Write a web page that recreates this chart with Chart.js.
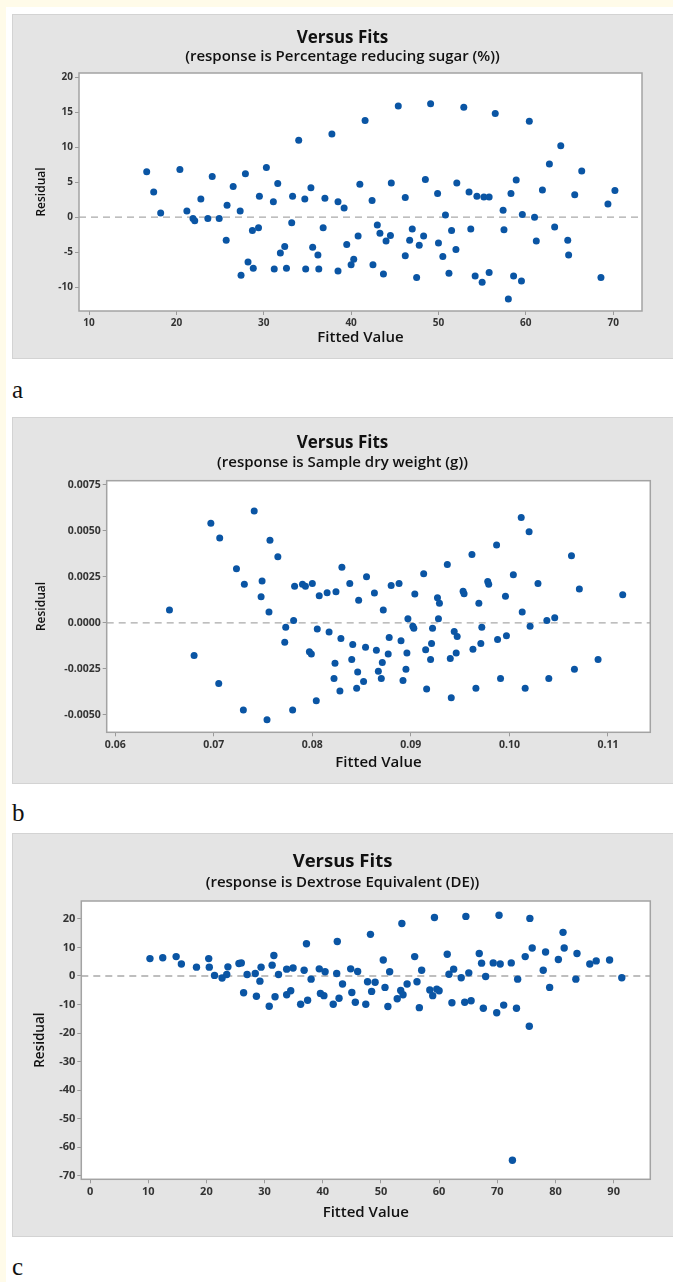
<!DOCTYPE html>
<html>
<head>
<meta charset="utf-8">
<script src="https://cdn.jsdelivr.net/npm/chart.js@4.4.1/dist/chart.umd.min.js"></script>
<style>
body { margin:0; background:#fff; width:673px; height:1282px; overflow:hidden; position:relative; }
.strip-left { position:absolute; left:0; top:0; width:6px; height:1282px; background:#fffbe9; }
.strip-top { position:absolute; left:0; top:0; width:673px; height:7px; background:#fffbe9; }
.panel { position:absolute; left:12px; width:670px; background:#e4e4e4; border:1px solid #d3d3d3; box-sizing:border-box; }
canvas { position:absolute; left:12px; }
.tag { position:absolute; left:12px; font:25px 'Liberation Serif', serif; line-height:25px; color:#111; }
</style>
</head>
<body>
<div class="strip-left"></div>
<div class="strip-top"></div>

<div class="panel" style="top:14px;height:345px"></div>
<canvas id="chartA" width="661" height="345" style="top:14px"></canvas>
<div class="tag" style="top:377px">a</div>

<div class="panel" style="top:417px;height:367px"></div>
<canvas id="chartB" width="661" height="367" style="top:417px"></canvas>
<div class="tag" style="top:800px">b</div>

<div class="panel" style="top:833px;height:404px"></div>
<canvas id="chartC" width="661" height="404" style="top:833px"></canvas>
<div class="tag" style="top:1254px">c</div>

<script>
// a - Percentage reducing sugar
const fittedA = [16.6, 17.4, 18.2, 20.4, 21.2, 21.9, 22.1, 22.8, 23.6, 24.1, 24.9, 25.7, 25.8, 26.5, 27.3, 27.4, 27.9, 28.2, 28.7, 28.8,
  29.4, 29.5, 30.3, 31.1, 31.2, 31.6, 31.9, 32.4, 32.6, 33.2, 33.3, 34.0, 34.7, 34.8, 35.4, 35.6, 36.2, 36.3, 36.8, 37.0,
  37.8, 38.5, 38.5, 39.2, 39.5, 40.0, 40.3, 40.8, 41.0, 41.6, 42.4, 42.5, 43.0, 43.3, 43.7, 44.0, 44.5, 44.6, 45.4, 46.2,
  46.2, 46.7, 47.0, 47.5, 47.8, 48.3, 48.5, 49.1, 49.9, 50.0, 50.5, 50.8, 51.2, 51.5, 52.0, 52.1, 52.9, 53.5, 53.7, 54.2,
  54.4, 55.0, 55.2, 55.8, 55.8, 56.5, 57.4, 57.5, 58.0, 58.3, 58.6, 58.9, 59.5, 59.6, 60.4, 61.0, 61.2, 61.9, 62.7, 63.3,
  64.0, 64.8, 64.9, 65.6, 66.4, 68.6, 69.4, 70.2];
const residA = [6.5, 3.6, 0.6, 6.8, 0.9, -0.2, -0.5, 2.6, -0.2, 5.8, -0.2, -3.3, 1.7, 4.4, 0.9, -8.3, 6.2, -6.4, -1.9, -7.3,
  -1.5, 3.0, 7.1, 2.2, -7.4, 4.8, -5.1, -4.2, -7.3, -0.8, 3.0, 11.0, 2.6, -7.4, 4.2, -4.3, -5.4, -7.4, -1.5, 2.7,
  11.9, -7.7, 2.2, 1.3, -3.9, -6.8, -6.0, -2.7, 4.7, 13.8, 2.4, -6.8, -1.1, -2.3, -8.1, -3.4, -2.6, 4.9, 15.9, -5.5,
  2.8, -3.3, -1.7, -8.6, -4.0, -2.7, 5.4, 16.2, 3.4, -3.7, -5.6, 0.3, -8.0, -1.9, -4.6, 4.9, 15.7, 3.6, -1.7, -8.4,
  3.0, -9.3, 2.9, 2.9, -7.9, 14.8, 1.0, -1.8, -11.7, 3.4, -8.4, 5.3, -9.1, 0.4, 13.7, 0.0, -3.4, 3.9, 7.6, -1.4,
  10.2, -3.3, -5.4, 3.2, 6.6, -8.6, 1.9, 3.8];
const ticksAX = [10, 20, 30, 40, 50, 60, 70];
const labelsAX = ['10', '20', '30', '40', '50', '60', '70'];
const ticksAY = [-10, -5, 0, 5, 10, 15, 20];
const labelsAY = ['-10', '-5', '0', '5', '10', '15', '20'];

// b - Sample dry weight
const fittedB = [0.0655, 0.0680, 0.0697, 0.0705, 0.0706, 0.0723, 0.0730, 0.0731, 0.0741, 0.0748, 0.0749, 0.0754, 0.0756, 0.0757, 0.0765,
  0.0772, 0.0773, 0.0780, 0.0781, 0.0782, 0.0790, 0.0793, 0.0797, 0.0799, 0.0800, 0.0804, 0.0805, 0.0807, 0.0815, 0.0817,
  0.0822, 0.0823, 0.0824, 0.0828, 0.0829, 0.0830, 0.0838, 0.0840, 0.0841, 0.0845, 0.0846, 0.0847, 0.0852, 0.0854, 0.0855,
  0.0863, 0.0865, 0.0867, 0.0870, 0.0871, 0.0872, 0.0877, 0.0878, 0.0880, 0.0888, 0.0890, 0.0892, 0.0895, 0.0896, 0.0897,
  0.0902, 0.0903, 0.0904, 0.0913, 0.0915, 0.0916, 0.0920, 0.0921, 0.0922, 0.0927, 0.0928, 0.0929, 0.0937, 0.0940, 0.0941,
  0.0944, 0.0946, 0.0947, 0.0953, 0.0954, 0.0962, 0.0963, 0.0966, 0.0969, 0.0971, 0.0972, 0.0978, 0.0979, 0.0987, 0.0988,
  0.0991, 0.0996, 0.0997, 0.1004, 0.1012, 0.1013, 0.1016, 0.1020, 0.1021, 0.1029, 0.1038, 0.1040, 0.1046, 0.1063, 0.1066,
  0.1071, 0.1090, 0.1115];
const residB = [0.0007, -0.00177, 0.00542, -0.00329, 0.00461, 0.00294, -0.00473, 0.0021, 0.00609, 0.00143, 0.00228, -0.00526, 0.0006, 0.0045, 0.0036,
  -0.00105, -0.00023, -0.00473, 0.00013, 0.00199, 0.0021, 0.002, -0.00157, -0.00168, 0.00215, -0.00423, -0.00033, 0.00148, 0.00164, -0.00049,
  -0.00302, -0.00219, 0.0017, -0.0037, -0.00085, 0.00303, 0.00215, -0.00199, -0.00117, -0.00354, -0.00266, 0.00123, -0.00318, -0.00132, 0.00251,
  0.00163, -0.00148, -0.00262, -0.00302, -0.00215, 0.0007, -0.00168, -0.00079, 0.00204, 0.00215, -0.00096, -0.00313, -0.00251, -0.00163, 0.00023,
  -0.00018, -0.00029, 0.00157, 0.00267, -0.00146, -0.00359, -0.00199, -0.00112, -0.00029, 0.00137, 0.00023, 0.00107, 0.00318, -0.00193, -0.00406,
  -0.00047, -0.00163, -0.00074, 0.00173, 0.00159, 0.00372, -0.00143, -0.00354, 0.00107, -0.00112, -0.00023, 0.00226, 0.0021, 0.00423, -0.0009,
  -0.00302, 0.00145, -0.0007, 0.00262, 0.00573, 0.0006, -0.00354, 0.00495, -0.00018, 0.00215, 0.00013, -0.00302, 0.00029, 0.00365, -0.00251,
  0.00184, -0.00199, 0.00154];
const ticksBX = [0.06, 0.07, 0.08, 0.09, 0.10, 0.11];
const labelsBX = ['0.06', '0.07', '0.08', '0.09', '0.10', '0.11'];
const ticksBY = [-0.005, -0.0025, 0, 0.0025, 0.005, 0.0075];
const labelsBY = ['-0.0050', '-0.0025', '0.0000', '0.0025', '0.0050', '0.0075'];

// c - Dextrose Equivalent
const fittedC = [10.3, 12.5, 14.8, 15.7, 18.3, 20.4, 20.5, 21.4, 22.7, 23.5, 23.7, 25.6, 26.0, 26.4, 27.0, 28.4, 28.6, 29.2, 29.4, 30.8,
  31.3, 31.6, 31.8, 32.4, 33.8, 33.8, 34.5, 34.9, 36.2, 36.8, 37.2, 37.4, 38.0, 39.4, 39.6, 40.2, 40.4, 41.8, 42.4, 42.5,
  42.8, 43.4, 44.8, 45.0, 45.6, 46.0, 47.4, 47.7, 48.2, 48.4, 49.0, 50.4, 50.7, 51.2, 51.5, 52.8, 53.4, 53.6, 53.8, 54.5,
  55.8, 56.2, 56.6, 57.0, 58.4, 58.9, 59.2, 59.6, 60.0, 61.4, 61.7, 62.2, 62.5, 63.8, 64.4, 64.6, 65.1, 65.5, 66.9, 67.3,
  67.6, 68.0, 69.3, 69.9, 70.3, 70.5, 71.1, 72.4, 72.6, 73.3, 73.5, 74.8, 75.5, 75.6, 76.0, 77.9, 78.3, 79.0, 80.5, 81.3,
  81.5, 83.5, 83.7, 85.9, 87.0, 89.3, 91.4];
const residC = [6.1, 6.4, 6.8, 4.2, 3.1, 6.1, 3.1, 0.2, -0.7, 0.5, 3.2, 4.4, 4.6, -5.9, 0.5, 0.9, -7.1, -1.8, 3.1, -10.6,
  3.8, 7.2, -7.3, 0.5, -6.6, 2.4, -5.2, 2.8, -9.9, 2.0, 11.3, -8.5, -1.1, 2.5, -6.1, -6.9, 1.5, -9.9, 0.9, 12.1,
  -7.8, -2.8, 2.5, -5.8, -9.2, 1.6, -9.9, -2.0, 14.6, -5.4, -2.2, 5.6, -4.0, -10.7, 1.5, -8.0, -5.1, 18.4, -6.6, -2.8,
  6.8, -2.0, -11.1, 2.0, -4.9, -6.9, 20.5, -4.6, -5.2, 7.6, 0.6, -9.4, 2.4, -0.6, -9.2, 20.9, 1.1, -8.7, 7.9, 4.5,
  -11.3, -0.2, 4.6, -12.9, 21.3, 4.2, -10.2, 4.6, -64.6, -11.3, -1.1, 6.8, -17.6, 20.2, 9.8, 2.0, 8.4, -4.0, 5.8, 15.3,
  9.8, -1.1, 7.9, 4.2, 5.3, 5.6, -0.6];
const ticksCX = [0, 10, 20, 30, 40, 50, 60, 70, 80, 90];
const labelsCX = ['0', '10', '20', '30', '40', '50', '60', '70', '80', '90'];
const ticksCY = [-70, -60, -50, -40, -30, -20, -10, 0, 10, 20];
const labelsCY = ['-70', '-60', '-50', '-40', '-30', '-20', '-10', '0', '10', '20'];

// white plot area, grey frame and the dashed zero line
const plotFrame = {
    id: 'plotFrame',
    beforeDraw(chart) {
        const a = chart.chartArea;
        const ctx = chart.ctx;
        ctx.save();
        ctx.fillStyle = '#ffffff';
        ctx.fillRect(a.left, a.top, a.right - a.left, a.bottom - a.top);
        ctx.restore();
    },
    beforeDatasetsDraw(chart) {
        const a = chart.chartArea;
        const ctx = chart.ctx;
        const y0 = chart.scales.y.getPixelForValue(0);
        ctx.save();
        ctx.strokeStyle = '#a9a9a9';
        ctx.lineWidth = 1.3;
        ctx.setLineDash([7, 5]);
        ctx.beginPath();
        ctx.moveTo(a.left, y0);
        ctx.lineTo(a.right, y0);
        ctx.stroke();
        ctx.setLineDash([]);
        ctx.strokeStyle = '#a3a3a3';
        ctx.lineWidth = 1.5;
        ctx.strokeRect(a.left, a.top, a.right - a.left, a.bottom - a.top);
        ctx.restore();
    }
};

function makeChart(id, fitted, resid, xTicks, xLabels, yTicks, yLabels, lay) {
    const canvas = document.getElementById(id);
    const W = canvas.width, H = canvas.height;
    const points = fitted.map((x, i) => ({x: x, y: resid[i]}));
    // paddings so the title baselines and the plot top land where they should
    const tPad = lay.titleBase - 0.885 * lay.titleSize;
    const tBottom = tPad + 1.2 * lay.titleSize;
    const sPad = Math.max(0, lay.subBase - 0.885 * lay.subSize - tBottom);
    const sBottom = tBottom + sPad + 1.2 * lay.subSize;
    const tickFont = {family: 'Open Sans', size: lay.tickSize, weight: 'bold'};
    const grid = {drawOnChartArea: false, drawTicks: true, tickLength: 4, color: '#9a9a9a'};

    return new Chart(canvas, {
        type: 'scatter',
        data: {
            datasets: [{
                data: points,
                backgroundColor: '#0a55a4',
                borderColor: '#0a55a4',
                borderWidth: 0,
                pointRadius: lay.dot,
                pointHoverRadius: lay.dot,
            }],
        },
        options: {
            responsive: false,
            animation: false,
            devicePixelRatio: 1,
            layout: {padding: 0},
            plugins: {
                legend: {display: false},
                tooltip: {enabled: false},
                title: {
                    display: true,
                    text: 'Versus Fits',
                    color: '#111',
                    font: {family: 'Open Sans', size: lay.titleSize, weight: 'bold', lineHeight: 1.2},
                    padding: {top: tPad, bottom: 0},
                },
                subtitle: {
                    display: true,
                    text: lay.subtitle,
                    color: '#111',
                    font: {family: 'Open Sans', size: lay.subSize, weight: '600', lineHeight: 1.2},
                    padding: {top: sPad, bottom: lay.plot.top - sBottom},
                },
            },
            scales: {
                x: {
                    type: 'linear',
                    position: 'bottom',
                    min: lay.xMin,
                    max: lay.xMax,
                    afterBuildTicks: (s) => { s.ticks = xTicks.map((v) => ({value: v})); },
                    afterFit: (s) => { s.height = H - lay.plot.bottom; },
                    ticks: {autoSkip: false, maxRotation: 0, padding: 2, color: '#333', font: tickFont,
                        callback: (v, i) => xLabels[i]},
                    grid: grid,
                    border: {display: false},
                    title: {display: true, text: 'Fitted Value', color: '#111',
                        font: {family: 'Open Sans', size: lay.xTitleSize, weight: '600', lineHeight: 1.2},
                        padding: {top: 0, bottom: lay.xTitlePad}},
                },
                y: {
                    type: 'linear',
                    position: 'left',
                    min: lay.yMin,
                    max: lay.yMax,
                    afterBuildTicks: (s) => { s.ticks = yTicks.map((v) => ({value: v})); },
                    afterFit: (s) => { s.width = lay.plot.left; },
                    ticks: {autoSkip: false, padding: 2, color: '#333', font: tickFont,
                        callback: (v, i) => yLabels[i]},
                    grid: grid,
                    border: {display: false},
                    title: {display: true, text: 'Residual', color: '#111',
                        font: {family: 'Open Sans', size: lay.yTitleSize, weight: '600', lineHeight: 1.2},
                        padding: {top: lay.yTitlePad, bottom: 0}},
                },
                // empty right margin, keeps the titles centred on the whole panel
                yRight: {
                    type: 'linear',
                    position: 'right',
                    min: 0,
                    max: 1,
                    grid: {display: false},
                    ticks: {display: false},
                    border: {display: false},
                    afterFit: (s) => { s.width = W - lay.plot.right; },
                },
            },
        },
        plugins: [plotFrame],
    });
}

makeChart('chartA', fittedA, residA, ticksAX, labelsAX, ticksAY, labelsAY, {
    subtitle: '(response is Percentage reducing sugar (%))',
    titleBase: 28.7, titleSize: 17, subBase: 45.8, subSize: 15,
    plot: {left: 67, right: 630, top: 59, bottom: 297},
    xMin: 8.85, xMax: 73.3, yMin: -13.4, yMax: 20.6,
    dot: 3.5, tickSize: 10, xTitleSize: 15, xTitlePad: 12, yTitleSize: 12, yTitlePad: 22.8,
});

makeChart('chartB', fittedB, residB, ticksBX, labelsBX, ticksBY, labelsBY, {
    subtitle: '(response is Sample dry weight (g))',
    titleBase: 31, titleSize: 17, subBase: 49.5, subSize: 15,
    plot: {left: 94.7, right: 638.3, top: 63.7, bottom: 315.3},
    xMin: 0.05913, xMax: 0.1143, yMin: -0.00594, yMax: 0.00773,
    dot: 3.5, tickSize: 10.5, xTitleSize: 15, xTitlePad: 12.5, yTitleSize: 12, yTitlePad: 22.8,
});

makeChart('chartC', fittedC, residC, ticksCX, labelsCX, ticksCY, labelsCY, {
    subtitle: '(response is Dextrose Equivalent (DE))',
    titleBase: 33.7, titleSize: 18.5, subBase: 54, subSize: 15,
    plot: {left: 69.3, right: 638.3, top: 68, bottom: 346.3},
    xMin: -1.5, xMax: 96.3, yMin: -71.3, yMax: 26.3,
    dot: 3.7, tickSize: 11, xTitleSize: 15, xTitlePad: 15.5, yTitleSize: 13.5, yTitlePad: 20.2,
});
</script>
</body>
</html>
